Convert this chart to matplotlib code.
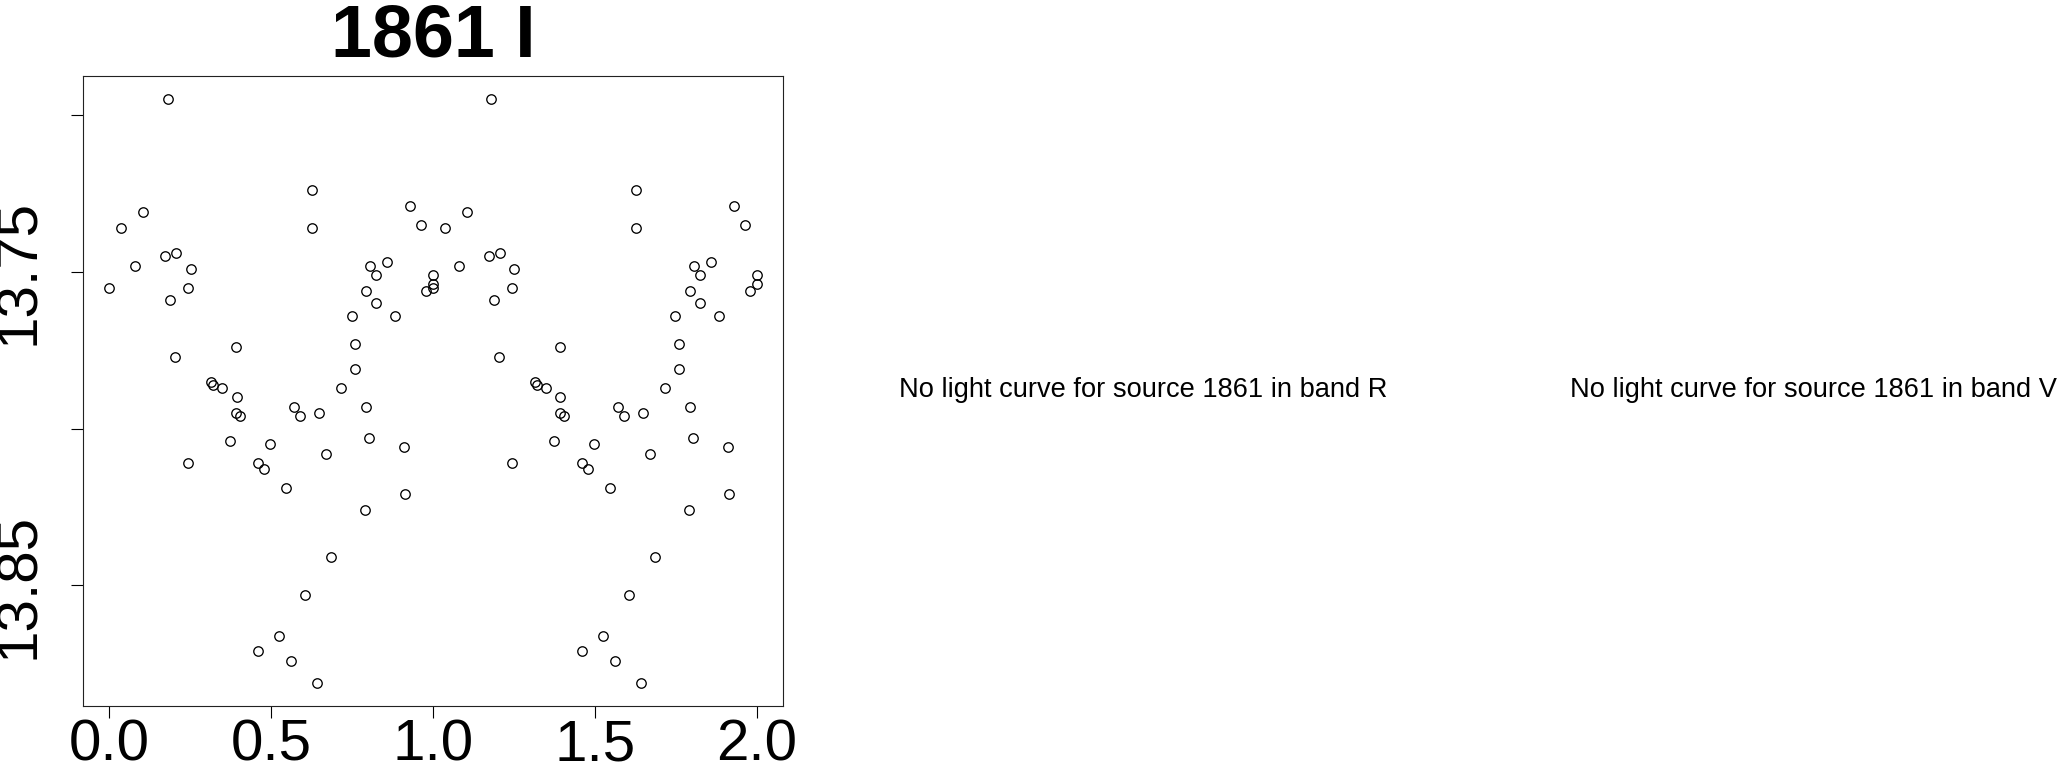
import matplotlib
matplotlib.use("Agg")
import matplotlib.pyplot as plt
import numpy as np

plt.rcParams['font.family'] = ['Liberation Sans', 'DejaVu Sans']

source_id = "1861"
band = "I"
missing_bands = ["R", "V"]

phase = [0.000, 0.035, 0.079, 0.105, 0.172, 0.180, 0.187, 0.202, 0.205, 0.242,
         0.243, 0.251, 0.313, 0.319, 0.347, 0.373, 0.391, 0.392, 0.393, 0.405,
         0.458, 0.460, 0.478, 0.496, 0.523, 0.545, 0.562, 0.571, 0.588, 0.605,
         0.625, 0.625, 0.642, 0.649, 0.668, 0.686, 0.716, 0.748, 0.758, 0.759,
         0.791, 0.792, 0.793, 0.801, 0.805, 0.823, 0.823, 0.858, 0.883, 0.911,
         0.912, 0.930, 0.962, 0.977, 0.999, 0.999]
mag = [13.755, 13.736, 13.748, 13.731, 13.745, 13.695, 13.759, 13.777, 13.744, 13.811,
       13.755, 13.749, 13.785, 13.786, 13.787, 13.804, 13.795, 13.774, 13.790, 13.796,
       13.811, 13.871, 13.813, 13.805, 13.866, 13.819, 13.874, 13.793, 13.796, 13.853,
       13.724, 13.736, 13.881, 13.795, 13.808, 13.841, 13.787, 13.764, 13.773, 13.781,
       13.826, 13.756, 13.793, 13.803, 13.748, 13.751, 13.760, 13.747, 13.764, 13.806,
       13.821, 13.729, 13.735, 13.756, 13.751, 13.754]

xticks = [0.0, 0.5, 1.0, 1.5, 2.0]
xticklabels = ["0.0", "0.5", "1.0", "1.5", "2.0"]
yticks = [13.70, 13.75, 13.80, 13.85]
yticklabels = ["", "13.75", "", "13.85"]

W, H = 2064, 764
fig = plt.figure(figsize=(W / 100, H / 100), dpi=100)
fig.patch.set_facecolor("white")

left, right, top, bottom = 83.3, 782.7, 76.0, 706.0
ax = fig.add_axes([left / W, 1 - bottom / H, (right - left) / W, (bottom - top) / H])

p = np.array(phase)
m = np.array(mag)
xs = np.concatenate([p, p + 1])
ys = np.concatenate([m, m])
ax.plot(xs, ys, linestyle="none", marker="o", markersize=6.8,
        markerfacecolor="none", markeredgecolor="black", markeredgewidth=0.95)

# R-style 4% axis padding
xr = xs.max() - xs.min()
ax.set_xlim(xs.min() - 0.04 * xr, xs.max() + 0.04 * xr)
yr = ys.max() - ys.min()
ax.set_ylim(ys.max() + 0.04 * yr, ys.min() - 0.04 * yr)

ax.set_xticks(xticks)
ax.set_xticklabels(xticklabels, fontsize=42)
ax.set_yticks(yticks)
ax.set_yticklabels(yticklabels, fontsize=42, rotation=90)
for lab in ax.get_yticklabels():
    lab.set_va("center")
ax.tick_params(axis="x", direction="out", length=8.6, width=0.8, pad=0.5)
ax.tick_params(axis="y", direction="out", length=8.6, width=0.8, pad=18.5)
for s in ax.spines.values():
    s.set_linewidth(0.8)
    s.set_color("#222222")

ax.set_title(f"{source_id} {band}", fontsize=53, fontweight="bold", pad=13.9)

text_x = [1143.3 / W, 1813.3 / W]
for tx, b in zip(text_x, missing_bands):
    fig.text(tx, 1 - 396.7 / H, f"No light curve for source {source_id} in band {b}",
             ha="center", va="baseline", fontsize=19.6)

fig.savefig("out.png", dpi=100, facecolor="white")
